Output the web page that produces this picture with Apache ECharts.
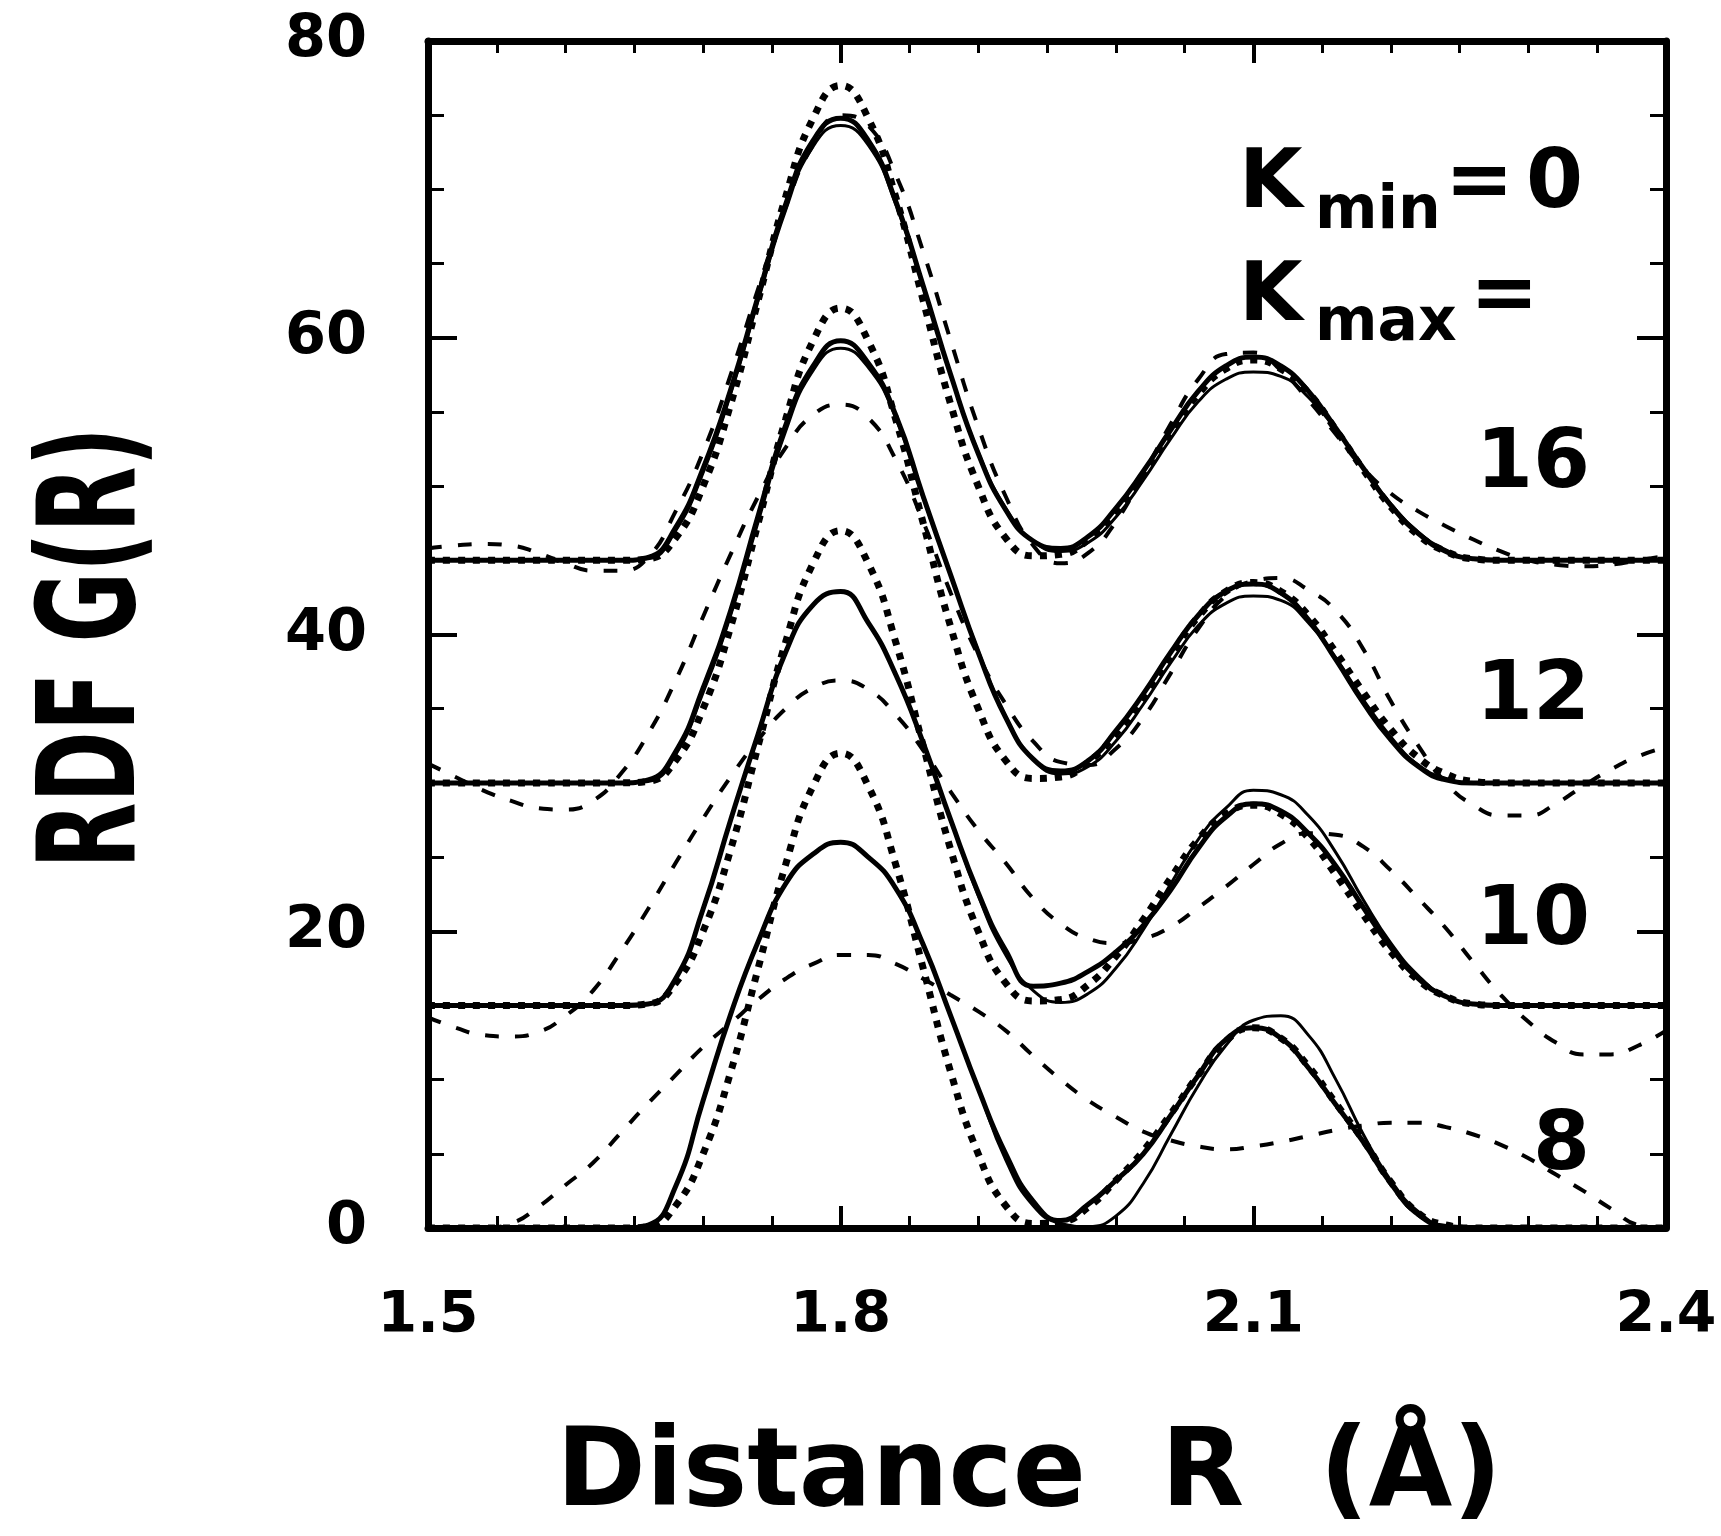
<!DOCTYPE html>
<html><head><meta charset="utf-8">
<script src="https://cdn.jsdelivr.net/npm/echarts@6/dist/echarts.min.js"></script>
<style>html,body{margin:0;padding:0;background:#fff}#c{width:1721px;height:1536px}</style>
</head><body><div id="c"></div>
<script>
// Distance grid (Å)
const R = [1.50,1.52,1.54,1.56,1.58,1.60,1.62,1.64,1.66,1.68,1.70,1.72,1.74,1.76,1.78,1.80,1.82,1.84,1.86,1.88,1.90,1.92,1.94,1.96,1.98,2.00,2.02,2.04,2.06,2.08,2.10,2.12,2.14,2.16,2.18,2.20,2.22,2.24,2.26,2.28,2.30,2.32,2.34,2.36,2.38,2.40];

// Dotted (model) curves
const dotted16 = [45,45,45,45,45,45,45,45,45.1,46.5,50.0,55.5,62.5,69.5,74.8,77.0,74.8,69.5,62.5,55.5,50.0,46.5,45.3,45.4,46.4,48.3,50.8,53.6,56.2,57.9,58.5,57.9,56.3,53.8,51.1,48.6,46.7,45.6,45.1,45,45,45,45,45,45,45];
const dotted12 = [30,30,30,30,30,30,30,30,30.1,31.5,35.0,40.5,47.5,54.5,59.8,62.0,59.8,54.5,47.5,40.5,35.0,31.5,30.3,30.4,31.4,33.3,35.8,38.6,41.2,42.9,43.5,42.9,41.3,38.8,36.1,33.6,31.7,30.6,30.1,30,30,30,30,30,30,30];
const dotted10 = [15,15,15,15,15,15,15,15,15.1,16.5,20.0,25.5,32.5,39.5,44.8,47.0,44.8,39.5,32.5,25.5,20.0,16.5,15.3,15.4,16.4,18.3,20.8,23.6,26.2,27.9,28.5,27.9,26.3,23.8,21.1,18.6,16.7,15.6,15.1,15,15,15,15,15,15,15];
const dotted8  = [0,0,0,0,0,0,0,0,0.1,1.5,5.0,10.5,17.5,24.5,29.8,32.0,29.8,24.5,17.5,10.5,5.0,1.5,0.3,0.4,1.4,3.2,5.2,7.7,10.3,12.6,13.5,12.8,10.9,8.4,5.9,3.1,1.0,0.2,0,0,0,0,0,0,0,0];

// Thick solid curves
const thick16 = [45,45,45,45,45,45,45,45,45.2,47.2,51.2,56.5,62.8,69.0,73.3,74.8,73.3,69.2,63.5,57.5,52.2,48.4,46.3,45.8,46.6,48.5,51.0,53.8,56.4,58.1,58.7,58.1,56.4,53.9,51.2,48.7,46.8,45.6,45.1,45,45,45,45,45,45,45];
const thick12 = [30,30,30,30,30,30,30,30,30.2,32.1,36.4,41.6,48.0,54.1,58.1,59.8,58.3,54.8,49.3,44.0,38.8,34.4,31.6,30.8,31.5,33.5,36.0,38.8,41.3,42.9,43.4,42.8,41.0,38.3,35.4,32.9,31.1,30.2,30.0,30,30,30,30,30,30,30];
const thick10 = [15,15,15,15,15,15,15,15,15.1,16.8,21.5,27.5,33.3,38.8,42.0,42.9,40.8,37.3,32.7,27.5,22.6,18.7,16.3,16.5,17.3,18.6,20.4,22.8,25.6,27.7,28.6,28.1,26.6,24.4,21.6,18.9,16.8,15.6,15.1,15,15,15,15,15,15,15];
const thick8  = [0,0,0,0,0,0,0,0,0.2,2.8,8.6,14.4,19.3,23.2,25.2,26.0,25.0,22.9,19.1,14.3,9.4,5.0,1.8,0.5,1.6,3.2,5.0,7.6,10.3,12.7,13.5,12.8,10.8,8.3,5.8,3.0,0.9,0.1,0,0,0,0,0,0,0,0];

// Thin solid curves
const thin16 = [45,45,45,45,45,45,45,45,45.1,47.0,50.9,56.2,62.5,68.6,72.9,74.3,73.0,69.0,63.4,57.5,52.3,48.5,46.3,45.6,46.2,47.9,50.4,53.2,55.7,57.2,57.7,57.4,56.0,53.8,51.2,48.8,46.9,45.7,45.1,45,45,45,45,45,45,45];
const thin12 = [30,30,30,30,30,30,30,30,30.1,31.9,36.1,41.3,47.6,53.7,57.8,59.3,58.0,54.6,49.2,44.0,38.9,34.5,31.6,30.6,31.1,32.8,35.3,38.1,40.6,42.1,42.6,42.3,40.8,38.4,35.6,33.1,31.2,30.3,30.0,30,30,30,30,30,30,30];
const thin10 = [15,15,15,15,15,15,15,15,15.1,16.8,21.5,27.5,33.3,38.8,42.0,42.9,40.8,37.3,32.7,27.5,22.4,18.4,16.0,15.2,15.8,17.5,20.1,23.2,26.2,28.3,29.5,29.2,27.8,25.3,22.1,19.2,17.0,15.6,15.1,15,15,15,15,15,15,15];
const thin8  = [0,0,0,0,0,0,0,0,0.2,2.8,8.6,14.4,19.3,23.2,25.2,26.0,25.0,22.9,19.1,14.3,9.4,4.6,1.5,0.3,0.1,0.8,3.0,6.3,9.6,12.3,14.0,14.3,13.0,10.0,6.3,3.2,1.1,0.1,0,0,0,0,0,0,0,0];

// Dashed curves
const dashed16 = [45.8,46.0,46.1,46.0,45.5,44.8,44.3,44.3,45.2,48.3,52.3,57.5,63.3,68.8,73.0,75.0,74.3,71.0,65.8,59.8,54.0,49.3,46.0,44.8,45.5,47.6,50.8,54.2,57.2,58.9,59.0,57.8,55.8,53.5,51.2,49.5,48.3,47.3,46.4,45.6,45.0,44.7,44.6,44.7,45.0,45.3];
const dashed12 = [31.3,30.4,29.5,28.8,28.3,28.2,28.8,30.6,33.3,36.9,41.2,45.4,49.3,52.6,54.8,55.5,54.6,51.8,47.6,42.8,38.6,35.3,32.8,31.4,31.2,32.3,34.4,37.4,40.4,42.6,43.6,43.8,43.0,41.6,39.0,35.5,32.5,30.0,28.5,27.8,27.8,28.6,29.8,30.9,31.8,32.4];
const dashed10 = [14.2,13.5,13.0,12.9,13.2,14.3,16.0,18.6,21.5,24.6,27.6,30.4,32.9,35.0,36.4,36.9,36.3,34.6,32.2,29.4,26.8,24.6,22.2,20.5,19.5,19.2,19.5,20.3,21.6,23.0,24.5,25.9,26.6,26.5,25.7,24.1,22.2,20.2,17.9,15.7,13.9,12.5,11.7,11.7,12.3,13.3];
const dashed8  = [0,0,0,0.3,1.4,2.9,4.4,6.4,8.4,10.3,12.2,13.8,15.4,16.8,17.8,18.4,18.4,17.8,16.8,15.7,14.6,13.3,11.6,10.0,8.6,7.5,6.5,5.9,5.5,5.3,5.5,5.8,6.2,6.6,6.9,7.1,7.1,6.8,6.3,5.6,4.7,3.6,2.5,1.3,0.2,0];

// Curve labels (Kmax values)
const kmaxLabels = ['16','12','10','8'];

const FONT = '"DejaVu Sans"';
const pairs = v => R.map((r, i) => [r, v[i]]);

const styles = {
  dashed: {color:'#000', width:4, type:[14,16], cap:'butt'},
  dotted: {color:'#000', width:7, type:[7,8], cap:'butt'},
  thin:   {color:'#000', width:3},
  thick:  {color:'#000', width:5}
};
const groups = [
  {k:'16', dashed:dashed16, dotted:dotted16, thin:thin16, thick:thick16},
  {k:'12', dashed:dashed12, dotted:dotted12, thin:thin12, thick:thick12},
  {k:'10', dashed:dashed10, dotted:dotted10, thin:thin10, thick:thick10},
  {k:'8',  dashed:dashed8,  dotted:dotted8,  thin:thin8,  thick:thick8}
];
const series = [];
['dashed','dotted','thin','thick'].forEach((kind, zi) => {
  groups.forEach(g => {
    series.push({
      type:'line', name: kind + g.k, data: pairs(g[kind]),
      smooth: 0.5, symbol:'none', silent:true, z: 2 + zi,
      lineStyle: styles[kind], xAxisIndex:0, yAxisIndex:0
    });
  });
});

const axisLine = {onZero:false, lineStyle:{color:'#000', width:7}};
const labelStyle = {color:'#000', fontFamily:FONT, fontWeight:'bold', fontSize:59};

const xBase = {
  type:'value', min:1.5, max:2.4, interval:0.3,
  axisLine, splitLine:{show:false}, minorSplitLine:{show:false},
  axisTick:{inside:true, length:22, lineStyle:{color:'#000', width:4}},
  minorTick:{show:true, splitNumber:6, length:12, lineStyle:{color:'#000', width:3}}
};
const yBase = {
  type:'value', min:0, max:80, interval:20,
  axisLine, splitLine:{show:false}, minorSplitLine:{show:false},
  axisTick:{inside:true, length:29, lineStyle:{color:'#000', width:4}},
  minorTick:{show:true, splitNumber:4, length:16, lineStyle:{color:'#000', width:3}}
};

const big = 'bold 82px ' + FONT;
const sub = 'bold 60px ' + FONT;
const txt = (s, x, y, font, align) => ({type:'text', x, y, silent:true,
  style:{text:s, font, fill:'#000', align: align || 'left', verticalAlign:'middle'}});
const kY = [465.6, 697.6, 922.6, 1147.6];

const graphic = [
  {type:'text', x:99, y:648, rotation:Math.PI/2, scaleX:0.86, scaleY:1.36, silent:true,
   style:{text:'RDF G(R)', font:'bold 100px ' + FONT, fill:'#000', align:'center', verticalAlign:'middle'}},
  txt('K', 1239, 185.6, big), txt('min', 1315, 212, sub), txt('=', 1445, 185.6, big), txt('0', 1526, 185.6, big),
  txt('K', 1239, 298.6, big), txt('max', 1315, 324, sub), txt('=', 1470, 298.6, big)
].concat(kmaxLabels.map((s, i) => txt(s, 1590, kY[i], big, 'right')));

const chart = echarts.init(document.getElementById('c'));
chart.setOption({
  animation:false,
  backgroundColor:'#fff',
  grid:{left:428, right:55, top:41, bottom:281, containLabel:false},
  xAxis:[
    Object.assign({}, xBase, {position:'bottom',
      axisLabel:Object.assign({margin:61, showMinLabel:true, showMaxLabel:true, formatter:v => v.toFixed(1)}, labelStyle, {fontSize:57}),
      name:'Distance  R  (Å)', nameLocation:'middle', nameGap:195,
      nameTextStyle:{color:'#000', fontFamily:FONT, fontWeight:'bold', fontSize:108, padding:[0, 36, 0, 0]}}),
    Object.assign({}, xBase, {position:'top', axisLabel:{show:false}})
  ],
  yAxis:[
    Object.assign({}, yBase, {position:'left',
      axisLabel:Object.assign({margin:61, showMinLabel:true, showMaxLabel:true}, labelStyle)}),
    Object.assign({}, yBase, {position:'right', axisLabel:{show:false}})
  ],
  graphic,
  series
});
</script>
</body></html>
